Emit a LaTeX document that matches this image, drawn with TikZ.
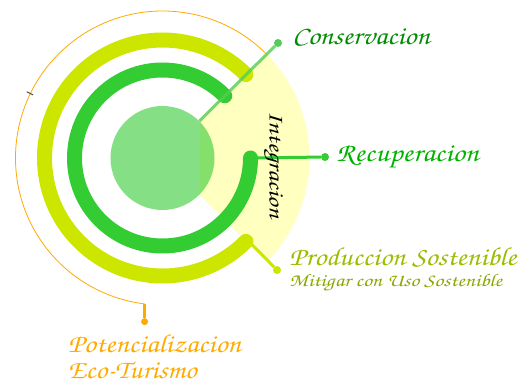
\documentclass[tikz,border=0pt]{standalone}
\usetikzlibrary{positioning}
\newcommand{\chanc}{\fontencoding{T1}\fontfamily{pzc}\fontseries{mb}\fontshape{it}\selectfont}
\newcommand{\wide}[2][1.14]{\scalebox{#1}[1]{#2}}
\definecolor{ringgreen}{HTML}{33CC33}
\definecolor{ringlime}{HTML}{CCE600}
\definecolor{linkgreen}{HTML}{55CC55}
\definecolor{ecoorange}{HTML}{FFAA00}
\definecolor{sectorfill}{HTML}{FFFFC0}
\definecolor{prodtext}{HTML}{9ABD00}
\definecolor{mititext}{HTML}{88A800}

\begin{document}
\begin{tikzpicture}[x=1pt, y=1pt,
    ring/.style={line width=15pt, line cap=round},
    dot/.style={circle, fill, inner sep=0pt, minimum size=8pt},
    link/.style={line width=3pt},
    lbl/.style={inner sep=0pt, anchor=west, font=\chanc},
]
\useasboundingbox (0,0) rectangle (522,384);
\coordinate (C) at (162.5,226);
\fill[sectorfill] ([shift={(45:53)}]C) -- ([shift={(45:147)}]C) arc[start angle=45, end angle=-45, radius=147] -- ([shift={(-45:53)}]C) -- cycle;
\node (core) [circle, fill=ringgreen, fill opacity=0.6, minimum size=104pt, inner sep=0pt] at (C) {};
\draw[ring, ringlime] ([shift={(45:118)}]C) arc[start angle=45, end angle=315, radius=118];
\draw[ring, ringgreen] ([shift={(45:88)}]C) arc[start angle=45, end angle=360, radius=88];
\draw[ecoorange, line width=0.8pt] ([shift={(45:147)}]C) arc[start angle=45, end angle=263, radius=147] coordinate (ecoend);
\draw[gray!60!black, line width=1pt] ([shift={(154:144)}]C) -- ([shift={(154:151)}]C);
\coordinate (recstart) at ([shift={(0:89)}]C);
\coordinate (prodstart) at ([shift={(-44:119)}]C);

\node (consdot) [dot, linkgreen] at (278,341) {};
\node (recdot) [dot, ringgreen] at (325,227) {};
\node (proddot) [dot, ringlime] at (277,114) {};
\node (ecodot) [dot, ecoorange, minimum size=7pt, below=14pt of ecoend] {};

\draw[link, linkgreen, opacity=0.8] (core.45) -- (consdot);
\draw[link, ringgreen] (recstart) -- (recdot);
\draw[link, ringlime] (prodstart) -- (proddot);
\draw[link, ecoorange] (ecoend) -- (ecodot);

\node (cons) [lbl, right=10pt of consdot, yshift=6pt, text=green!55!black] {\fontsize{26}{26}\selectfont\wide{Conservacion}};
\node (recu) [lbl, right=7pt of recdot, text=green!70!black] {\fontsize{26}{26}\selectfont\wide[1.17]{Recuperacion}};
\node (prod) [lbl, right=8pt of proddot, yshift=13pt, text=prodtext] {\fontsize{26}{26}\selectfont\wide{Produccion Sostenible}};
\node (miti) [lbl, text=mititext] at ([yshift=-26pt]prod.west) {\fontsize{18}{18}\selectfont\wide[1.23]{Mitigar con Uso Sostenible}};
\node (poten) [lbl, text=ecoorange] at (68,41) {\fontsize{26}{26}\selectfont\wide{Potencializacion}};
\node (turismo) [lbl, text=ecoorange] at ([yshift=-27pt]poten.west) {\fontsize{26}{26}\selectfont\wide[1.1]{Eco-Turismo}};
\node (integ) [rotate=-90, font=\chanc] at (273,219) {\fontsize{22}{22}\selectfont\wide[1.2]{Integracion}};
\end{tikzpicture}
\end{document}
